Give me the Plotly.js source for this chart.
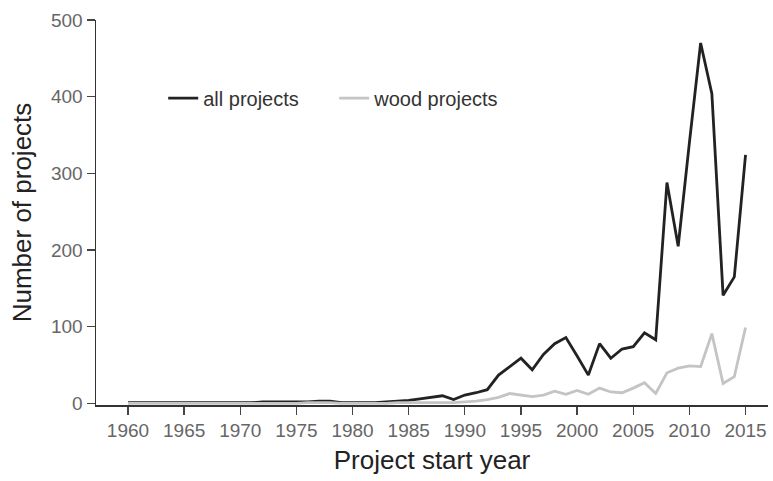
<!DOCTYPE html>
<html>
<head>
<meta charset="utf-8">
<script src="https://cdn.plot.ly/plotly-3.0.1.min.js"></script>
<style>html,body{margin:0;padding:0;background:#fff;}#chart{width:773px;height:481px;}</style>
</head>
<body>
<div id="chart"></div>
<script>
const years = [1960,1961,1962,1963,1964,1965,1966,1967,1968,1969,1970,1971,1972,1973,1974,1975,1976,1977,1978,1979,1980,1981,1982,1983,1984,1985,1986,1987,1988,1989,1990,1991,1992,1993,1994,1995,1996,1997,1998,1999,2000,2001,2002,2003,2004,2005,2006,2007,2008,2009,2010,2011,2012,2013,2014,2015];
const allProjects = [1,1,1,1,1,1,1,1,1,1,1,1,2,2,2,2,2,3,3,1,1,1,1,2,3,4,6,8,10,5,11,14,18,37,48,59,44,64,78,86,62,37,78,59,71,74,92,83,288,205,340,470,404,141,165,324];
const woodProjects = [0,0,0,0,0,0,0,0,0,0,0,0,0,0,0,0,1,1,1,0,0,0,0,0,1,1,1,1,1,1,2,3,5,8,13,11,9,11,16,12,17,12,20,15,14,20,27,13,40,46,49,48,91,26,35,99];
const xTicks = [1960,1965,1970,1975,1980,1985,1990,1995,2000,2005,2010,2015];
const yTicks = [0,100,200,300,400,500];

const font = 'Liberation Sans, Arial, Helvetica, sans-serif';
const traces = [
  {x: years, y: allProjects, name: 'all projects', type: 'scatter', mode: 'lines',
   line: {color: '#222', width: 2.8}},
  {x: years, y: woodProjects, name: 'wood projects', type: 'scatter', mode: 'lines',
   line: {color: '#c4c4c4', width: 2.8}}
];
const layout = {
  width: 773, height: 481,
  margin: {l: 96, r: 5, t: 20, b: 76},
  paper_bgcolor: '#fff', plot_bgcolor: '#fff',
  font: {family: font, color: '#555'},
  showlegend: true,
  legend: {orientation: 'h', x: 0.1, y: 0.797, xanchor: 'left', yanchor: 'middle',
           font: {family: font, size: 20, color: '#333'}, entrywidth: 126, entrywidthmode: 'pixels',
           bgcolor: 'rgba(0,0,0,0)'},
  xaxis: {range: [1957.15, 2017.0], tickvals: xTicks, ticktext: xTicks.map(String),
          showgrid: false, zeroline: false, showline: true, linecolor: '#333', linewidth: 1.5,
          ticks: 'outside', ticklen: 8, tickwidth: 1.3, tickcolor: '#444',
          tickfont: {family: font, size: 19, color: '#666'},
          title: {text: 'Project start year', font: {family: font, size: 26, color: '#222'}, standoff: 10}},
  yaxis: {range: [-2, 500], tickvals: yTicks, ticktext: yTicks.map(String),
          showgrid: false, zeroline: false, showline: true, linecolor: '#333', linewidth: 1.5,
          ticks: 'outside', ticklen: 8, tickwidth: 1.3, tickcolor: '#444',
          tickfont: {family: font, size: 19, color: '#666'},
          title: {text: 'Number of projects', font: {family: font, size: 26, color: '#222'}, standoff: 12}}
};
Plotly.newPlot('chart', traces, layout, {displayModeBar: false, staticPlot: true});
</script>
</body>
</html>
